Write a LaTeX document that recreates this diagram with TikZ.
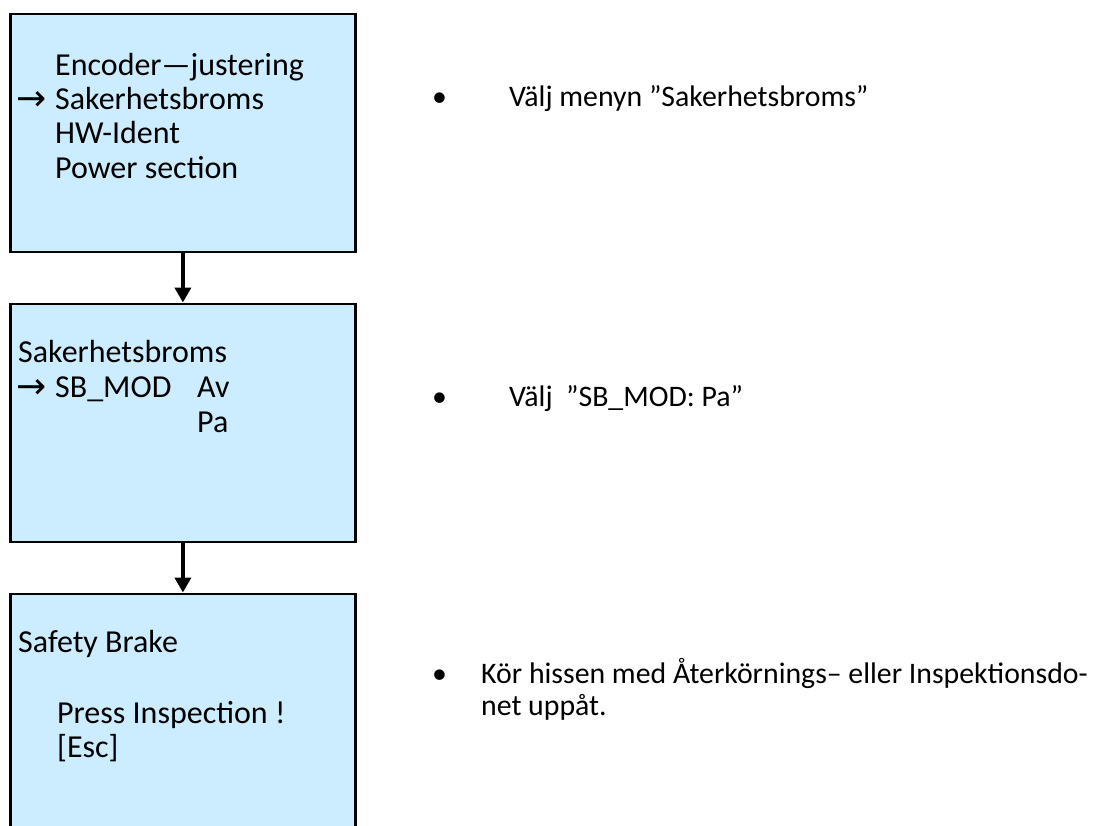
\documentclass[tikz,border=0pt]{standalone}
\usepackage{graphicx}
\usepackage{fontspec}
\setmainfont{Carlito}
\newfontfamily\symfont{DejaVu Sans}
\usetikzlibrary{arrows.meta}
\definecolor{boxfill}{RGB}{204,236,255}
\newcommand{\menuarrow}{\raisebox{0pt}[0.5em][0pt]{\symfont\fontsize{36}{36}\selectfont →}}
\begin{document}
\begin{tikzpicture}[x=1pt,y=-1pt,
  screen/.style={draw=black, line width=2.8pt, fill=boxfill, rectangle, anchor=north west, inner sep=0pt, minimum width=345pt},
  boxtext/.style={anchor=base west, inner sep=0pt, font=\fontsize{32}{34}\selectfont},
  note/.style={anchor=base west, inner sep=0pt, font=\fontsize{29.8}{33}\selectfont},
  flow/.style={line width=4.2pt, -{Triangle[length=15pt,width=16pt]}}]
\useasboundingbox (0,0) rectangle (1110,825);
\clip (0,0) rectangle (1110,825);
% screens
\node[screen, minimum height=238pt] (b1) at (9,12.5) {};
\node[screen, minimum height=238pt] (b2) at (9,302.5) {};
\node[screen, minimum height=260pt] (b3) at (9,592.5) {};
% connectors
\draw[flow] (b1.south) -- (b2.north);
\draw[flow] (b2.south) -- (b3.north);
% screen 1 text
\node[boxtext] (t11) at (55,75) {Encoder—justering};
\node[boxtext] (a12) at (16,110) {\menuarrow};
\node[boxtext] (t12) at (55,109) {Sakerhetsbroms};
\node[boxtext] (t13) at (55,143.5) {HW-Ident};
\node[boxtext] (t14) at (55,178) {Power section};
% screen 2 text
\node[boxtext] (t21) at (18,362) {Sakerhetsbroms};
\node[boxtext] (a22) at (16,398) {\menuarrow};
\node[boxtext] (t22) at (55,397) {SB\_MOD};
\node[boxtext] (t22b) at (197,397) {Av};
\node[boxtext] (t23) at (197,432) {Pa};
% screen 3 text
\node[boxtext] (t31) at (18,652) {Safety Brake};
\node[boxtext] (t32) at (57,723) {Press Inspection !};
\node[boxtext] (t33) at (57,757) {[Esc]};
% notes
\node[note] (u1) at (432,106) {•};
\node[note] (n1) at (509,106) {Välj menyn ”Sakerhetsbroms”};
\node[note] (u2) at (432,406) {•};
\node[note] (n2) at (509,406) {Välj\ \ ”SB\_MOD: Pa”};
\node[note] (u3) at (432,683) {•};
\node[note] (n3) at (481,683) {Kör hissen med Återkörnings– eller Inspektionsdo-};
\node[note] (n3b) at (481,715) {net uppåt.};
\end{tikzpicture}
\end{document}
